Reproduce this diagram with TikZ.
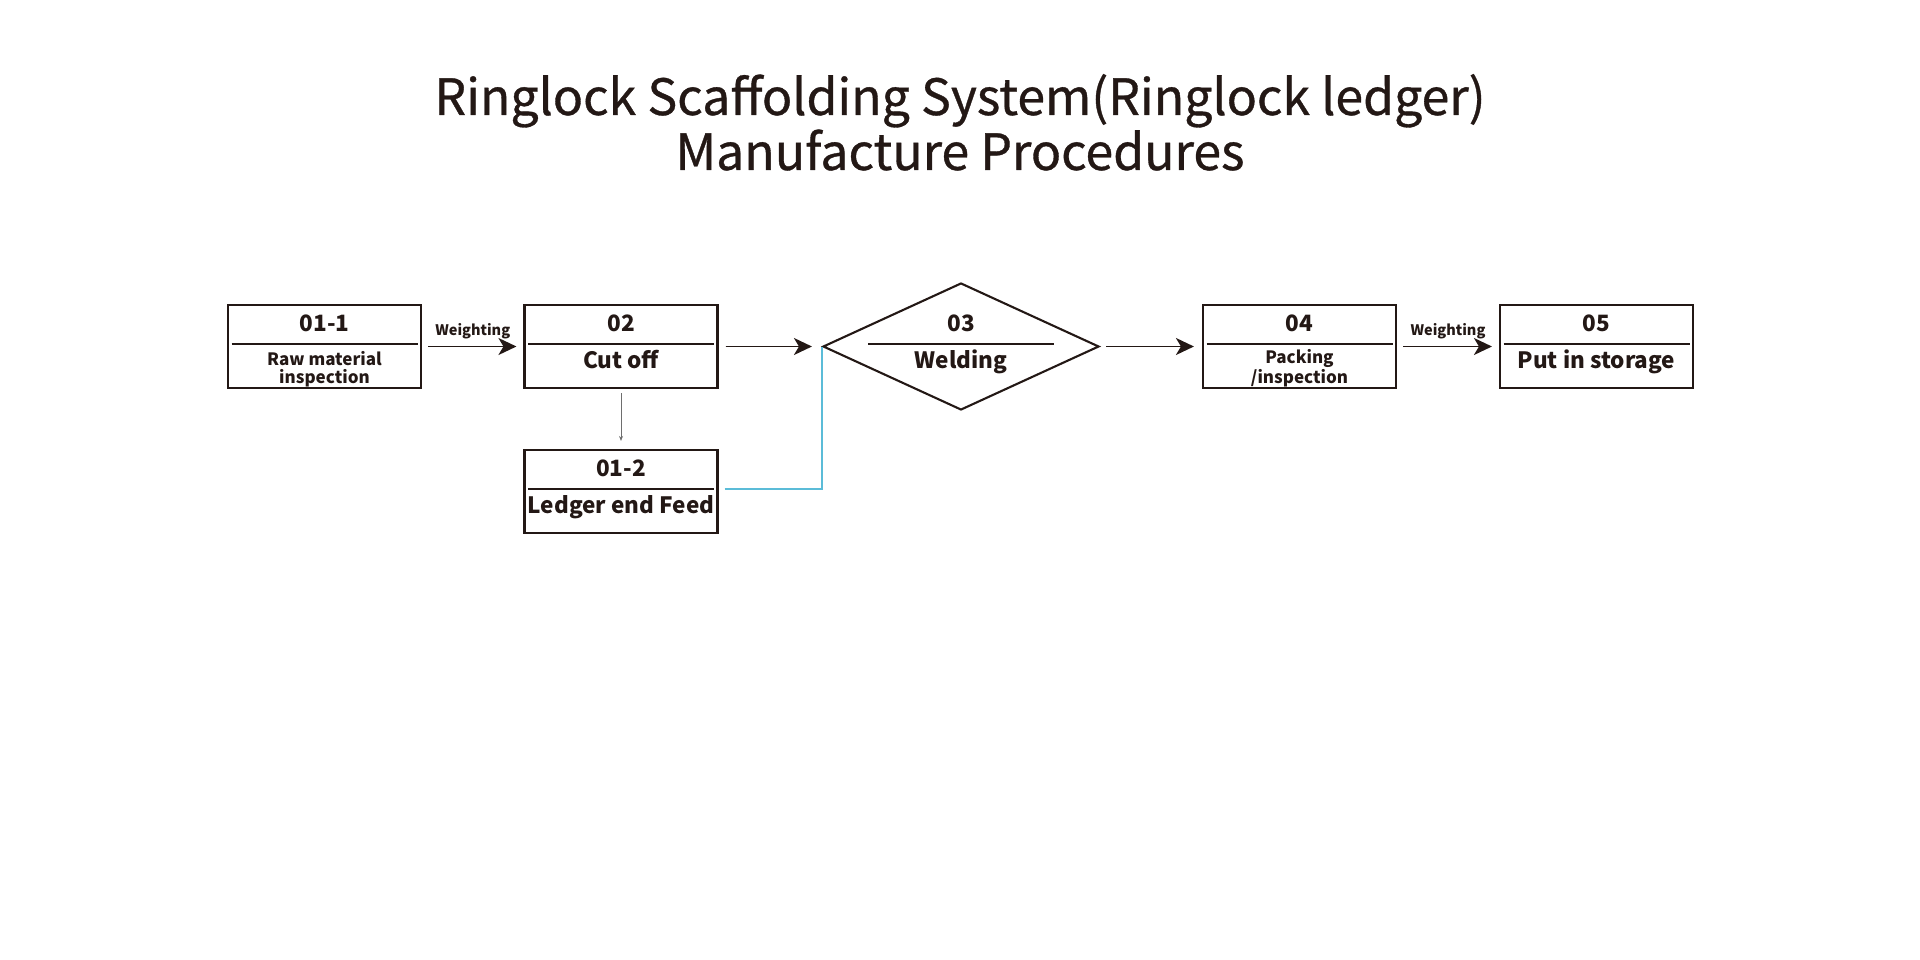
\documentclass[tikz,border=0pt]{standalone}
\usepackage{fontspec}
\setmainfont{Noto Sans CJK SC}
\newfontfamily\titlefont[FakeBold=0.7]{Noto Sans CJK SC}
\usepackage{tikz}
\usetikzlibrary{arrows.meta, positioning, calc, shapes.geometric}

\definecolor{inkblack}{HTML}{231815}
\definecolor{feedcyan}{HTML}{5BBCD8}
\definecolor{thingray}{HTML}{6E6E6E}

\begin{document}
\begin{tikzpicture}[
    x=1pt, y=-1pt,
    >= {Stealth[length=18pt, width=17pt, inset=5pt]},
    procbox/.style={draw=inkblack, line width=2.1pt, rectangle, minimum width=193pt, minimum height=83pt, inner sep=0pt},
    weldbox/.style={draw=inkblack, line width=2.1pt, diamond, minimum width=276pt, minimum height=127pt, inner sep=0pt},
    numtext/.style={anchor=base, inner sep=0pt, text=inkblack, font=\fontsize{22.5}{27}\selectfont\bfseries},
    bigtext/.style={anchor=base, inner sep=0pt, text=inkblack, font=\fontsize{22.5}{27}\selectfont\bfseries},
    smalltext/.style={anchor=base, inner sep=0pt, align=center, text=inkblack, font=\fontsize{17}{18}\selectfont\bfseries, yshift=-14.5pt},
    flow/.style={->, draw=inkblack, fill=inkblack, line width=1.9pt},
    ]

    \useasboundingbox (0,0) rectangle (1920,960);

    % Define a macro for each numbered step box
    \newcommand{\procstep}[7]{
        \node[#7] (#1) at (#2, #3) {};
        % divider line
        \draw[inkblack, line width=2.1pt] (#2 - 93, #3 - 2.5) -- (#2 + 93, #3 - 2.5);
        % number and label
        \node[numtext] (#1-num) at (#2, #3 - 15.5) {#4};
        \node[#6] (#1-txt) at (#2, #3 + 22) {#5};
    }

    % ==========================================
    % Title
    % ==========================================
    \node[anchor=base, align=center, text=inkblack, font=\fontsize{50}{55}\selectfont\titlefont] (title) at (960, 170)
        {Ringlock Scaffolding System(Ringlock ledger)\\Manufacture Procedures};

    % ==========================================
    % Draw Steps
    % ==========================================
    \procstep{raw}{324.5}{346.5}{01-1}{Raw material\\inspection}{smalltext}{procbox}
    \procstep{cut}{621}{346.5}{02}{Cut off}{bigtext}{procbox}
    \procstep{feed}{621}{491.5}{01-2}{Ledger end Feed}{bigtext}{procbox}
    \procstep{weld}{961}{346.5}{03}{Welding}{bigtext}{weldbox}
    \procstep{pack}{1299.5}{346.5}{04}{Packing\\/inspection}{smalltext}{procbox}
    \procstep{store}{1596.5}{346.5}{05}{Put in storage}{bigtext}{procbox}

    % ==========================================
    % Draw Arrows Between Steps
    % ==========================================
    \draw[flow, shorten <=6pt, shorten >=7pt] (raw) -- node[above=3pt, font=\fontsize{14.5}{17}\selectfont\bfseries, text=inkblack] (w1) {Weighting} (cut);
    \draw[flow, shorten <=7pt, shorten >=10pt] (cut) -- (weld);
    \draw[flow, shorten <=6pt, shorten >=8pt] (weld) -- (pack);
    \draw[flow, shorten <=6pt, shorten >=7pt] (pack) -- node[above=3pt, font=\fontsize{14.5}{17}\selectfont\bfseries, text=inkblack] (w2) {Weighting} (store);

    \draw[-{Stealth[length=5pt, width=4pt]}, thingray, line width=1pt, shorten <=4pt, shorten >=8pt] (cut) -- (feed);
    \draw[feedcyan, line width=1.3pt] ([xshift=6pt, yshift=2.5pt]feed.east) -| (weld.west);

\end{tikzpicture}
\end{document}
